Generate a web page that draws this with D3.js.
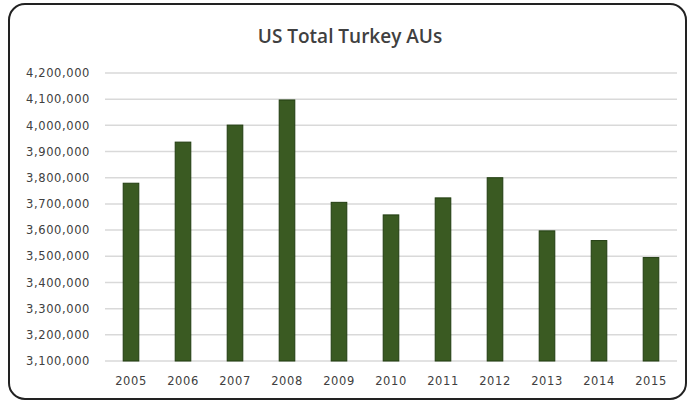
<!DOCTYPE html>
<html>
<head>
<meta charset="utf-8">
<script src="https://cdn.jsdelivr.net/npm/d3@7"></script>
<style>
  body { margin: 0; background: #fff; }
  text { font-family: "DejaVu Sans", sans-serif; fill: #404040; }
</style>
</head>
<body>
<div id="chart"></div>
<script>
var years = ["2005", "2006", "2007", "2008", "2009", "2010", "2011", "2012", "2013", "2014", "2015"];
var turkeyAUs = [3779000, 3936000, 4001000, 4097000, 3706000, 3658000, 3723000, 3800000, 3597000, 3560000, 3495000];
var yTicks = [3100000, 3200000, 3300000, 3400000, 3500000, 3600000, 3700000, 3800000, 3900000, 4000000, 4100000, 4200000];

var svgWidth = 690;
var svgHeight = 402;

var svg = d3.select("#chart")
  .append("svg")
  .attr("width", svgWidth)
  .attr("height", svgHeight);

// rounded frame
svg.append("rect")
  .attr("x", 9)
  .attr("y", 4)
  .attr("width", 677)
  .attr("height", 395)
  .attr("rx", 16)
  .attr("fill", "#fff")
  .attr("stroke", "#222")
  .attr("stroke-width", 2);

svg.append("text")
  .attr("x", 350)
  .attr("y", 43)
  .attr("text-anchor", "middle")
  .style("font-family", "'Open Sans', sans-serif")
  .style("font-size", "19px")
  .style("font-weight", 600)
  .style("fill", "#404040")
  .text("US Total Turkey AUs");

var x = d3.scaleBand()
  .domain(years)
  .range([105, 677])
  .paddingInner(0.7)
  .paddingOuter(0.35);

var y = d3.scaleLinear()
  .domain([3100000, 4200000])
  .range([361, 73]);

// gridlines
svg.append("g")
  .selectAll("line")
  .data(yTicks)
  .enter()
  .append("line")
  .attr("x1", 105)
  .attr("x2", 677)
  .attr("y1", d => y(d))
  .attr("y2", d => y(d))
  .attr("stroke", "#d9d9d9")
  .attr("stroke-width", 1.5);

// y axis labels
var leftAxis = d3.axisLeft(y)
  .tickValues(yTicks)
  .tickFormat(d3.format(","))
  .tickSize(0)
  .tickPadding(0);

var yAxis = svg.append("g")
  .attr("transform", "translate(90,0)")
  .call(leftAxis);
yAxis.select(".domain").remove();
yAxis.selectAll("text")
  .style("font-size", "11.5px")
  .style("letter-spacing", "0.6px")
  .style("fill", "#404040");

// bars
svg.append("g")
  .selectAll("rect")
  .data(turkeyAUs)
  .enter()
  .append("rect")
  .attr("x", (d, i) => x(years[i]))
  .attr("y", d => y(d))
  .attr("width", x.bandwidth())
  .attr("height", d => y(3100000) - y(d))
  .attr("fill", "#3a5a22")
  .attr("stroke", "#213d10")
  .attr("stroke-width", 1);

// x axis labels
var bottomAxis = d3.axisBottom(x).tickSize(0).tickPadding(0);
var xAxis = svg.append("g")
  .attr("transform", "translate(0,377)")
  .call(bottomAxis);
xAxis.select(".domain").remove();
xAxis.selectAll("text")
  .style("font-size", "11.5px")
  .style("letter-spacing", "0.6px")
  .style("fill", "#404040");
</script>
</body>
</html>
